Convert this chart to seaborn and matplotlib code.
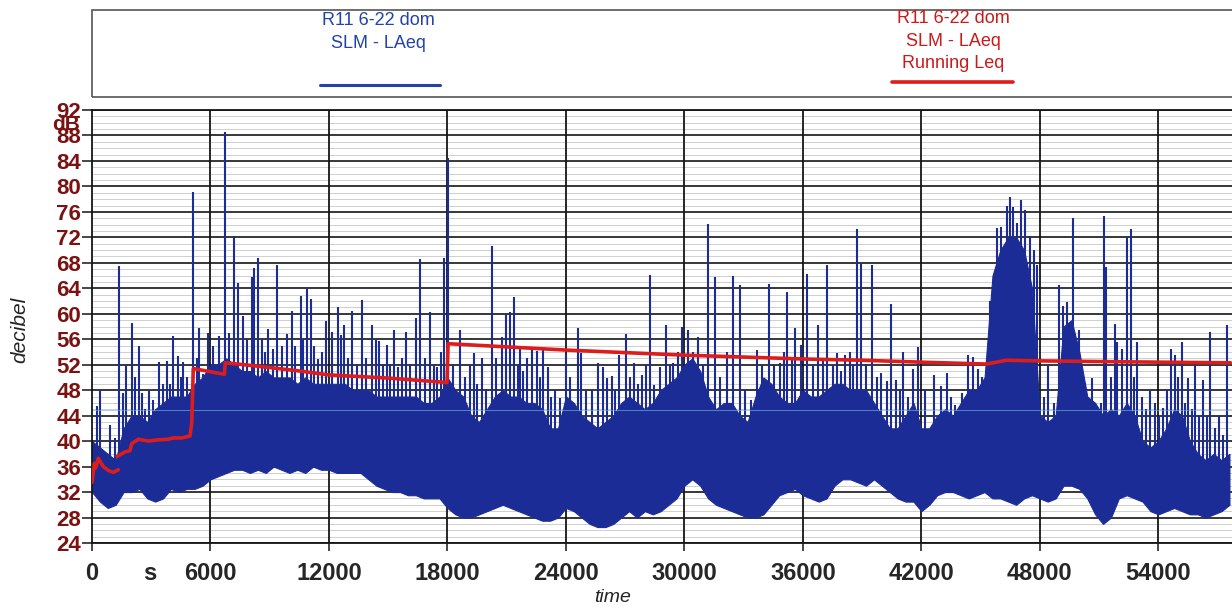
import numpy as np
import pandas as pd
import matplotlib
matplotlib.use("Agg")
import matplotlib.pyplot as plt
from matplotlib.lines import Line2D
from matplotlib.patches import Rectangle
import seaborn as sns

# dense LAeq band, sampled every 400 s (lower / upper edge of the solid blue area)
band_t = np.arange(0, 57601, 400)
band_lo = [32, 30.5, 29.5, 30, 32, 32, 32.5, 31, 30.5, 31, 32.5, 32, 32.5, 32.5, 33,
           34, 34.5, 35, 35.5, 35.5, 35, 35.5, 35, 36, 35.5, 35, 35.5, 35, 36, 35.5,
           35.5, 35, 35, 35, 35, 34, 33, 32.5, 32, 32, 31.5, 31.5, 31, 31, 31,
           29.5, 28.5, 28, 28, 28.5, 29, 29.5, 30, 29.5, 29, 28.5, 28, 27.5, 27.5, 28,
           29.5, 29, 28, 27, 26.5, 26.5, 27, 28, 29, 28, 29, 28.5, 29, 30, 31,
           33, 34, 33, 31, 30, 29.5, 29, 28.5, 28, 28, 28.5, 30, 31.5, 32, 32.5,
           31.5, 31, 30.5, 31, 33, 34, 34, 33.5, 33, 34, 33, 32, 31, 30.5, 30.5,
           29, 30, 31.5, 32, 32, 31.5, 31, 31.5, 32, 31, 31, 30.5, 30, 31, 31.5,
           31, 30.5, 31, 33, 33, 32.5, 31, 28.5, 27, 28, 31, 31.5, 31, 30.5, 29,
           28.5, 29, 29.5, 29, 28.5, 28.5, 28, 28.5, 29, 30]
band_hi = [40, 39, 38, 37, 42, 44, 44, 43, 45, 46, 47, 47, 47, 49, 50,
           52, 52, 53, 52, 51, 51, 50, 51, 50, 50, 50, 49, 50, 49, 49,
           49, 49, 49, 48, 48, 48, 47, 47, 47, 47, 47, 47, 46, 46, 47,
           50, 48, 47, 44, 43, 45, 47, 48, 47, 47, 46, 46, 45, 42, 42,
           47, 46, 44, 43, 42, 43, 44, 46, 47, 46, 45, 46, 48, 49, 50,
           52, 53, 51, 47, 45, 46, 46, 44, 43, 47, 50, 49, 47, 46, 46,
           48, 47, 47, 48, 49, 49, 48, 48, 48, 46, 44, 42, 42, 44, 46,
           42, 42, 44, 45, 44, 46, 48, 48, 50, 66, 70, 72, 72, 70, 64,
           44, 43, 44, 58, 59, 54, 47, 46, 44, 45, 44, 46, 44, 40, 39,
           40, 42, 45, 44, 40, 38, 37, 38, 37, 38]

# single loud events rising above the band
spike_t = [235, 405, 911, 1150, 1367, 1585, 1721, 2005, 2177, 2380, 2511, 2700, 2901, 3104, 3250,
           3407, 3600, 3812, 3950, 4116, 4334, 4500, 4623, 4825, 5129, 5300, 5433, 5635, 5888,
           6150, 6450, 6733, 6950, 7189, 7407, 7660, 7850, 8081, 8200, 8386, 8588, 8750, 8926,
           9150, 9348, 9600, 9888, 10108, 10300, 10563, 10700, 10866, 11088, 11250, 11458, 11650, 11848,
           12132, 12436, 12605, 12774, 12950, 13145, 13399, 13685, 13900, 14157, 14380, 14532, 14750,
           14950, 15100, 15290, 15508, 15700, 15878, 16100, 16385, 16607, 16860, 17113, 17300, 17451,
           17650, 17830, 18030,
           18300, 18630, 18900, 19138, 19340, 19500, 19726, 19950, 20232, 20454, 20773, 20961, 21163,
           21366, 21550, 21670, 21850, 22039, 22292, 22511, 22700, 22850, 23067, 23250, 23442, 23695, 23979,
           24200, 24620, 24757, 25041, 25300, 25634, 25852, 26105, 26308, 26500, 26681, 27017, 27250,
           27457, 27650, 27827, 28050, 28252, 28469, 28758, 29062, 29250, 29431, 29650, 29902,
           30190, 30450, 30697, 30950, 31203, 31541, 31800, 32179, 32469, 32806, 33050, 33363, 33701,
           33950, 34293, 34550, 34833, 35050, 35219, 35450, 35624, 35894, 36216,
           36500, 36770, 37000, 37244, 37500, 37750, 37950, 38122, 38376, 38550, 38763, 38932, 39200,
           39506, 39750, 39945, 40283, 40485, 40738, 40900, 41076, 41300, 41582, 41836,
           42200, 42646, 43015, 43319, 43500, 43691, 44063, 44367, 44620, 44873, 45050, 45263, 45500,
           45836, 46056, 46225, 46323, 46478, 46630, 46833, 47035, 47237, 47490, 47700, 47875,
           48200, 48433, 48700, 48990, 49193, 49362, 49666, 50000, 50289, 50450, 50627, 50880, 51100,
           51268, 51355, 51600, 51811, 51896, 52149, 52402, 52605, 52750, 52908, 53150, 53350, 53581,
           53835, 54050, 54256, 54450, 54628, 54846, 55000, 55186, 55350, 55520, 55700, 55861, 56050,
           56281, 56450, 56620, 56850, 57050, 57250, 57495]
spike_db = [45.5, 48, 42.5, 40.5, 67.5, 47.6, 51.8, 58.5, 50.1, 55.0, 47.5, 45, 47.8, 46.4, 45,
            52.4, 49, 52.6, 49, 56.5, 53.3, 50, 52.4, 50.1, 79.2, 53, 57.7, 50.6, 57.0,
            55, 56.5, 88.6, 57, 72.2, 64.9, 59.7, 56, 65.7, 67.2, 68.8, 56, 54, 57.6,
            54.5, 67.7, 55, 56.8, 60.5, 55, 62.8, 56, 63.9, 62.3, 55, 52.9, 54, 58.9,
            57.1, 61, 56.6, 58.2, 53, 60.4, 52, 62.1, 53, 58.2, 55.9, 55.8, 52,
            55.1, 52, 57.4, 51.7, 53, 57.1, 52, 59.4, 68.6, 53, 60.3, 52, 51.7,
            54, 68.8, 84.4,
            52, 57.4, 50, 52, 53.8, 49, 53, 48, 70.6, 53, 56.3, 60, 60.3,
            62.6, 52, 54.5, 51, 53, 54.5, 54.1, 50, 54.5, 51.7, 47, 48.1, 46.7, 53.6,
            50, 57.7, 53.8, 47.8, 48, 52.2, 51.7, 49.9, 50.2, 48, 53.5, 56.9, 50,
            52.3, 49, 50.4, 52, 66.1, 48.8, 51.7, 58.3, 52, 52.2, 54, 58,
            57.4, 54, 56.3, 52, 74.1, 65.8, 50, 54, 66, 64.5, 48, 46.4, 54.3,
            52, 64.7, 52, 52.2, 54, 63.4, 53, 57.8, 55.1, 66.2,
            52, 58.3, 53, 67.7, 52, 53.8, 51, 53.5, 54, 52, 73.3, 67.8, 52,
            67.7, 50, 50.7, 49.4, 61.5, 49.6, 48, 54, 47, 51.4, 54.8,
            48, 50.4, 48.6, 50.7, 47, 45.7, 47.5, 53.5, 53.2, 51.4, 50, 49.9, 62,
            73.5, 73.7, 69, 77, 78.3, 76.8, 74.3, 77.9, 76.3, 72.2, 70, 67.6,
            47, 51.9, 46, 64.5, 61.2, 61.8, 75.1, 57.5, 49.1, 47, 49.9, 44.4, 46,
            75.4, 67.4, 50, 58.4, 55.6, 54.5, 72, 73.3, 50, 55.5, 47, 45, 47.8,
            46, 44, 45.2, 48, 54.4, 53.5, 50, 55.5, 46, 49.9, 45, 52.2, 44,
            49.6, 44, 57.1, 42, 44, 41, 58.2]

# running Leq (two pieces, the trace restarts after ~1300 s)
leq1_t = [0, 120, 180, 320, 570, 830, 1080, 1330]
leq1_db = [33.5, 36.5, 35.8, 37.3, 36.0, 35.4, 35.1, 35.5]
leq2_t = [1270, 1670, 1925, 2010, 2350, 2850, 3360, 3870, 4120, 4540, 4960, 5050, 5129, 5300,
          5990, 6700, 6750, 8000, 10550, 12000, 15000, 17980, 18030, 21000, 24000, 27000, 30000,
          33000, 36000, 39000, 42000, 45300, 46300, 48000, 51000, 54000, 57650]
leq2_db = [37.6, 38.3, 38.5, 39.6, 40.3, 40.0, 40.2, 40.3, 40.5, 40.5, 40.8, 42.8, 51.4, 51.3,
           50.9, 50.5, 52.3, 51.9, 51.0, 50.4, 49.9, 49.2, 55.3, 54.8, 54.3, 53.9, 53.5,
           53.2, 52.9, 52.7, 52.4, 52.1, 52.7, 52.6, 52.5, 52.4, 52.3]

x_ticks = [0, 6000, 12000, 18000, 24000, 30000, 36000, 42000, 48000, 54000]
y_ticks = list(range(24, 93, 4))

NAVY = "#1c2c96"
RED = "#dd1c1c"
DARKRED = "#7b1212"

sns.set_style("white")
plt.rcParams["font.family"] = ["Liberation Sans", "DejaVu Sans"]

fig = plt.figure(figsize=(12.32, 6.07), dpi=100)
ax = fig.add_axes([92 / 1232, 1 - 543 / 607, 1 - 92 / 1232, (543 - 110) / 607])
ax.set_xlim(0, 57730)
ax.set_ylim(24, 92)

# grid
for y in range(24, 93):
    if y % 4:
        ax.axhline(y, color="#c8c8c8", lw=0.6, zorder=0.5)
    else:
        ax.axhline(y, color="#151515", lw=1.2, zorder=1)
for x in x_ticks[1:]:
    ax.axvline(x, color="#151515", lw=1.3, zorder=1)

# blue SLM trace
ax.fill_between(band_t, band_lo, band_hi, color=NAVY, lw=0.8, edgecolor=NAVY, zorder=2)
ax.vlines(spike_t, 36, spike_db, color=NAVY, lw=1.5, zorder=2)
ax.axhline(44.9, color="#6db4e6", lw=0.8, alpha=0.6, zorder=2.5)

# red running Leq
leq = pd.DataFrame({
    "t": leq1_t + leq2_t,
    "db": leq1_db + leq2_db,
    "seg": [1] * len(leq1_t) + [2] * len(leq2_t),
})
sns.lineplot(data=leq, x="t", y="db", units="seg", estimator=None, sort=False,
             color=RED, lw=2.6, ax=ax, zorder=3)

ax.set_xticks(x_ticks)
ax.set_xticklabels([str(v) for v in x_ticks], fontsize=17, fontweight="bold")
ax.set_yticks(y_ticks)
ax.set_yticklabels([str(v) for v in y_ticks], fontsize=16, fontweight="bold", color=DARKRED)
ax.tick_params(axis="y", direction="out", length=7, width=1.1, color="#151515", pad=1, left=True)
ax.tick_params(axis="x", direction="out", length=6, width=1.1, color="#151515", pad=8, bottom=True)
ax.set_xlabel("")
ax.set_ylabel("")
for side in ["left", "top", "bottom"]:
    ax.spines[side].set_color("#151515")
    ax.spines[side].set_linewidth(1.3)
ax.spines["right"].set_visible(False)

# axis texts
fig.text(150 / 1232, 1 - 573 / 607, "s", fontsize=17, fontweight="bold", ha="center", va="center")
fig.text(613 / 1232, 1 - 597 / 607, "time", fontsize=14, style="italic", ha="center", va="center",
         color="#222222")
fig.text(20 / 1232, 1 - 330 / 607, "decibel", fontsize=15, style="italic", rotation=90,
         ha="center", va="center", color="#222222")
# the scanned original prints "dB" squeezed between the 92 and 88 labels
fig.text(66 / 1232, 1 - 124 / 607, "dB", fontsize=15, fontweight="bold", color=DARKRED,
         ha="center", va="center")

# legend box on top
fig.patches.append(Rectangle((92 / 1232, 1 - 97 / 607), 1.0, 87 / 607, transform=fig.transFigure,
                             fill=False, edgecolor="#555555", lw=1.2))
fig.text(378 / 1232, 1 - 32 / 607, "R11 6-22 dom\nSLM - LAeq", fontsize=13, color="#2343a6",
         ha="center", va="center", linespacing=1.4)
fig.lines.append(Line2D([320 / 1232, 440 / 1232], [1 - 85 / 607] * 2, transform=fig.transFigure,
                        color="#2343a6", lw=2.2))
fig.text(953 / 1232, 1 - 41 / 607, "R11 6-22 dom\nSLM - LAeq\nRunning Leq", fontsize=13,
         color="#cc1a1a", ha="center", va="center", linespacing=1.4)
fig.lines.append(Line2D([892 / 1232, 1013 / 1232], [1 - 82 / 607] * 2, transform=fig.transFigure,
                        color=RED, lw=2.6))

fig.savefig("out.png", dpi=100)
